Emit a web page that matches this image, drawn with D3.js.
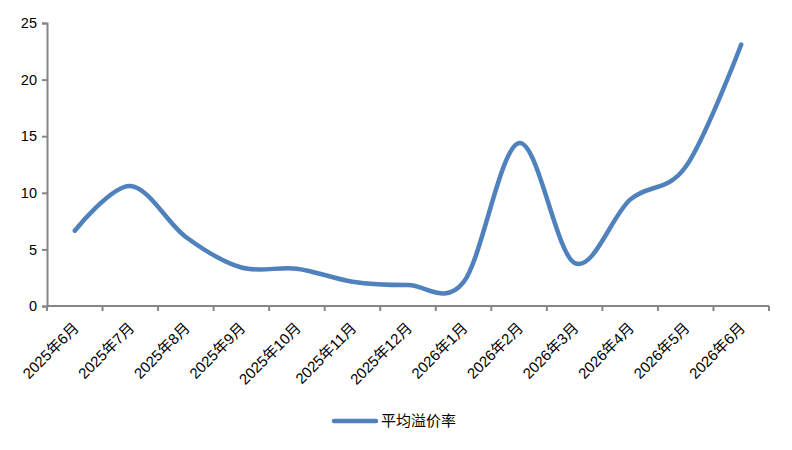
<!DOCTYPE html>
<html>
<head>
<meta charset="utf-8">
<script src="https://cdn.jsdelivr.net/npm/d3@7"></script>
<style>
  body { margin: 0; background: #fff; }
  text { font-family: "Liberation Sans", "Noto Sans CJK SC", sans-serif; fill: #000; }
</style>
</head>
<body>
<svg id="chart" width="792" height="450"></svg>
<script>
// months on the x axis
var months = ["2025年6月", "2025年7月", "2025年8月", "2025年9月", "2025年10月", "2025年11月",
              "2025年12月", "2026年1月", "2026年2月", "2026年3月", "2026年4月", "2026年5月", "2026年6月"];
// 平均溢价率
var premium = [6.65, 10.6, 6.1, 3.4, 3.3, 2.15, 1.85, 2.1, 14.4, 3.8, 9.4, 12.3, 23.1];
var yTicks = [0, 5, 10, 15, 20, 25];
var seriesName = "平均溢价率";

var plotLeft = 47, plotRight = 769, plotTop = 23, plotBottom = 306;
var axisColor = "#868686", lineColor = "#4F81BD";

var svg = d3.select("#chart");

var x = d3.scaleBand().domain(months).range([plotLeft, plotRight]).padding(0);
var y = d3.scaleLinear().domain([0, 25]).range([plotBottom, plotTop]);

// y axis
var yAxis = svg.append("g")
    .attr("transform", "translate(" + plotLeft + ",0)")
    .call(d3.axisLeft(y).tickValues(yTicks).tickSize(5).tickPadding(5));
yAxis.select(".domain").attr("stroke", axisColor).attr("stroke-width", 2);
yAxis.selectAll(".tick line").attr("stroke", axisColor).attr("stroke-width", 2);
yAxis.selectAll(".tick text")
    .attr("fill", "#000")
    .style("font-family", "'Liberation Sans', sans-serif")
    .style("font-size", "14.5px");

// x axis line + ticks at band edges
svg.append("line")
    .attr("x1", plotLeft).attr("x2", plotRight)
    .attr("y1", plotBottom).attr("y2", plotBottom)
    .attr("stroke", axisColor).attr("stroke-width", 2);
var edges = months.map(function(m) { return x(m); }).concat([plotRight]);
svg.selectAll(".xtick")
    .data(edges)
    .enter()
    .append("line")
    .attr("class", "xtick")
    .attr("x1", function(d) { return d; })
    .attr("x2", function(d) { return d; })
    .attr("y1", plotBottom)
    .attr("y2", plotBottom + 5)
    .attr("stroke", axisColor).attr("stroke-width", 2);

// rotated category labels
svg.selectAll(".xlabel")
    .data(months)
    .enter()
    .append("text")
    .attr("class", "xlabel")
    .attr("text-anchor", "end")
    .style("font-size", "15px")
    .attr("transform", function(d) {
        var cx = x(d) + x.bandwidth() / 2 + 5;
        return "translate(" + cx + "," + (plotBottom + 23) + ") rotate(-45)";
    })
    .text(function(d) { return d; });

// smoothed line (Excel style)
var line = d3.line()
    .x(function(d, i) { return x(months[i]) + x.bandwidth() / 2; })
    .y(function(d) { return y(d); })
    .curve(d3.curveCardinal.tension(0));

svg.append("path")
    .datum(premium)
    .attr("d", line)
    .attr("fill", "none")
    .attr("stroke", lineColor)
    .attr("stroke-width", 4.5)
    .attr("stroke-linecap", "round");

// legend
svg.append("line")
    .attr("x1", 334).attr("x2", 376)
    .attr("y1", 421).attr("y2", 421)
    .attr("stroke", lineColor).attr("stroke-width", 4.5)
    .attr("stroke-linecap", "round");
svg.append("text")
    .attr("x", 381).attr("y", 421)
    .attr("dy", "0.35em")
    .style("font-size", "15px")
    .text(seriesName);
</script>
</body>
</html>
